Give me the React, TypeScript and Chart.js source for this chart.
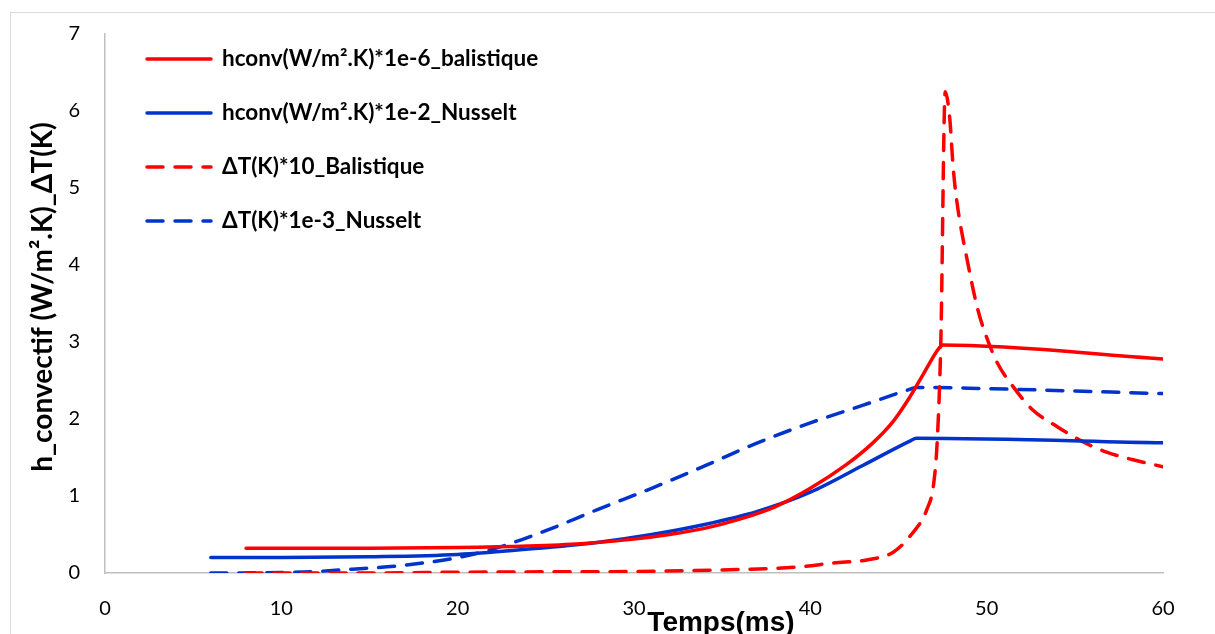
import React, { useEffect, useRef } from 'react';
import { Chart, registerables } from 'chart.js';

Chart.register(...registerables);

// ---- Data ----
const hconvBalX = [8, 15, 20, 24, 27, 30, 32, 34, 36, 38, 40, 42, 43.5, 44.7, 45.6, 46.4, 47.3, 47.5, 60];
const hconvBalY = [0.32, 0.32, 0.33, 0.35, 0.38, 0.44, 0.50, 0.58, 0.70, 0.86, 1.10, 1.40, 1.68, 1.97, 2.27, 2.58, 2.92, 2.96, 2.78];

const hconvNusX = [6, 10, 15, 20, 24, 28, 31, 34, 37, 40, 43, 45.7, 46, 60];
const hconvNusY = [0.20, 0.20, 0.21, 0.24, 0.31, 0.40, 0.50, 0.63, 0.80, 1.05, 1.40, 1.72, 1.75, 1.69];

const dtBalX = [8, 15, 20, 25, 30, 35, 39.4, 41.3, 43.2, 44.7, 45.8, 46.6, 47.0, 47.2, 47.4, 47.65, 47.9, 48.1, 48.3, 48.9, 49.5, 50.0, 50.6, 51.5, 52.6, 54.0, 55.5, 56.8, 58.3, 60];
const dtBalY = [0, 0, 0.01, 0.015, 0.02, 0.04, 0.08, 0.13, 0.17, 0.27, 0.52, 0.82, 1.17, 1.73, 3.0, 6.25, 5.92, 5.27, 4.84, 4.06, 3.42, 3.06, 2.73, 2.42, 2.12, 1.90, 1.70, 1.57, 1.47, 1.38];

const dtNusX = [6, 10, 12, 14, 16, 18, 20, 22, 25, 28, 31, 34, 37, 40, 43, 45.7, 46, 49, 60];
const dtNusY = [0, 0.005, 0.02, 0.05, 0.08, 0.13, 0.2, 0.31, 0.55, 0.83, 1.1, 1.39, 1.69, 1.95, 2.18, 2.39, 2.41, 2.40, 2.33];

const seriesLabels = [
  'hconv(W/m².K)*1e-6_balistique',
  'hconv(W/m².K)*1e-2_Nusselt',
  'ΔT(K)*10_Balistique',
  'ΔT(K)*1e-3_Nusselt',
];
const xTitle = 'Temps(ms)';
const yTitle = 'h_convectif (W/m².K)_ΔT(K)';
const xMin = 0, xMax = 60, xStep = 10;
const yMin = 0, yMax = 7, yStep = 1;

const RED = '#FF0000';
const BLUE = '#0033CC';

const toPoints = (xs: number[], ys: number[]) => xs.map((x, i) => ({ x, y: ys[i] }));

const W = 1219;
const H = 640;

export default function App() {
  const ref = useRef<HTMLCanvasElement>(null);

  useEffect(() => {
    if (!ref.current) return;

    const textPlugin = {
      id: 'customText',
      afterDraw(chart: any) {
        const ctx = chart.ctx as CanvasRenderingContext2D;
        ctx.save();
        // Legend
        chart.data.datasets.forEach((ds: any, i: number) => {
          const y = 46 + 54 * i;
          ctx.beginPath();
          ctx.strokeStyle = ds.borderColor;
          ctx.lineWidth = 3.5;
          ctx.lineCap = 'round';
          ctx.setLineDash(ds.borderDash || []);
          ctx.moveTo(136, y);
          ctx.lineTo(200, y);
          ctx.stroke();
          ctx.setLineDash([]);
          ctx.fillStyle = '#000';
          ctx.font = 'bold 22.5px Lato';
          ctx.textAlign = 'left';
          ctx.textBaseline = 'middle';
          ctx.fillText(ds.label, 211, y);
        });
        // Y title
        ctx.save();
        ctx.translate(32, 284);
        ctx.rotate(-Math.PI / 2);
        ctx.font = 'bold 28px Lato';
        ctx.textAlign = 'center';
        ctx.textBaseline = 'middle';
        ctx.fillStyle = '#000';
        ctx.fillText(yTitle, 0, 0);
        ctx.restore();
        // X title
        ctx.font = 'bold 28px "Liberation Sans"';
        ctx.textAlign = 'center';
        ctx.textBaseline = 'alphabetic';
        ctx.fillStyle = '#000';
        ctx.fillText(xTitle, 710, 618);
        ctx.restore();
      },
    };

    const common = {
      pointRadius: 0,
      borderWidth: 3.5,
      fill: false,
      borderCapStyle: 'round' as const,
      borderJoinStyle: 'round' as const,
      cubicInterpolationMode: 'monotone' as const,
    };

    const chart = new Chart(ref.current, {
      type: 'line',
      data: {
        datasets: [
          { ...common, label: seriesLabels[0], data: toPoints(hconvBalX, hconvBalY), borderColor: RED },
          { ...common, label: seriesLabels[1], data: toPoints(hconvNusX, hconvNusY), borderColor: BLUE },
          { ...common, label: seriesLabels[2], data: toPoints(dtBalX, dtBalY), borderColor: RED, borderDash: [16, 12] },
          { ...common, label: seriesLabels[3], data: toPoints(dtNusX, dtNusY), borderColor: BLUE, borderDash: [16, 12] },
        ],
      },
      options: {
        animation: false,
        responsive: false,
        devicePixelRatio: 1,
        layout: { padding: { left: 0, top: 21, right: W - 1152, bottom: 0 } },
        plugins: { legend: { display: false }, tooltip: { enabled: false } },
        scales: {
          x: {
            type: 'linear',
            min: xMin,
            max: xMax,
            afterFit: (s: any) => { s.height = H - 560; },
            grid: { display: false, drawTicks: false },
            border: { display: true, color: '#BFBFBF', width: 1.5 },
            ticks: { stepSize: xStep, color: '#000', padding: 24, font: { family: 'Lato', size: 20 }, maxRotation: 0 },
          },
          y: {
            type: 'linear',
            min: yMin,
            max: yMax,
            afterFit: (s: any) => { s.width = 94; s.paddingTop = 0; s.paddingBottom = 0; },
            grid: { display: false, drawTicks: false },
            border: { display: true, color: '#BFBFBF', width: 1.5 },
            ticks: { stepSize: yStep, color: '#000', padding: 25, font: { family: 'Lato', size: 20 } },
          },
        },
      },
      plugins: [textPlugin],
    });

    return () => chart.destroy();
  }, []);

  return (
    <div
      style={{
        position: 'fixed',
        left: 10,
        top: 12,
        width: W + 2,
        height: H + 2,
        border: '1px solid #D9D9D9',
        background: '#fff',
        boxSizing: 'border-box',
        overflow: 'hidden',
      }}
    >
      <canvas ref={ref} width={W} height={H} style={{ width: W, height: H, display: 'block' }} />
    </div>
  );
}
